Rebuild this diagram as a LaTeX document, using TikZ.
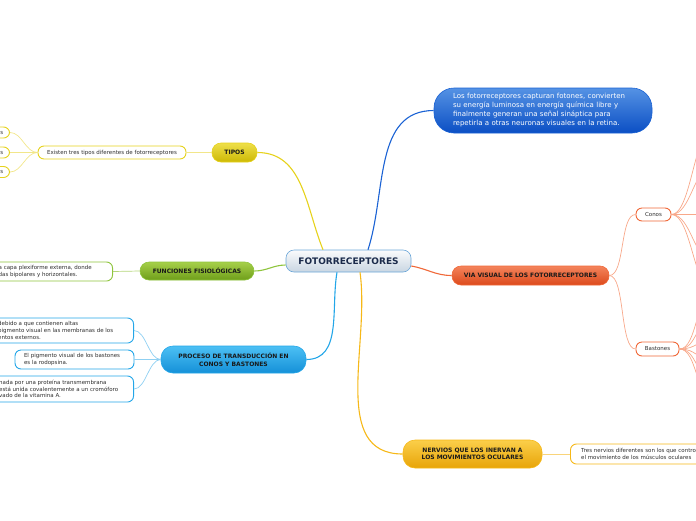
\documentclass[tikz,border=0pt]{standalone}
\usepackage{fontspec}
\setmainfont{DejaVu Sans}
\usetikzlibrary{positioning}
\definecolor{centop}{HTML}{FAFBFC}\definecolor{cenbot}{HTML}{C9D6E2}\definecolor{cenln}{HTML}{6BA6D8}\definecolor{centx}{HTML}{1B2B4B}
\definecolor{sumtop}{HTML}{5592E4}\definecolor{sumbot}{HTML}{0B4FC4}\definecolor{sumln}{HTML}{1A62D4}
\definecolor{tiptop}{HTML}{EEDF4A}\definecolor{tipbot}{HTML}{CDB905}\definecolor{tipln}{HTML}{E6D21C}\definecolor{tipsub}{HTML}{F2E68A}
\definecolor{funtop}{HTML}{A6D04A}\definecolor{funbot}{HTML}{6F9E1A}\definecolor{funln}{HTML}{8EC43C}\definecolor{funsub}{HTML}{B4D67A}
\definecolor{protop}{HTML}{4CC0F4}\definecolor{probot}{HTML}{1590D8}\definecolor{proln}{HTML}{23A6E8}\definecolor{prosub}{HTML}{8FD0F2}
\definecolor{viatop}{HTML}{F4845C}\definecolor{viabot}{HTML}{DC4A1C}\definecolor{vialn}{HTML}{F06838}\definecolor{viasub}{HTML}{F8A88A}
\definecolor{nertop}{HTML}{FBCF4A}\definecolor{nerbot}{HTML}{E8A408}\definecolor{nerln}{HTML}{F6B818}\definecolor{nersub}{HTML}{F9D47A}
\definecolor{leaftx}{HTML}{2E2E2E}

\begin{document}
\begin{tikzpicture}[x=1pt,y=-1pt,
  topic/.style={draw,line width=0.6pt,inner sep=0pt,align=center,font=\fontsize{6}{7.6}\selectfont\bfseries,text=black!90},
  leaf/.style={draw,fill=white,line width=0.9pt,rounded corners=6pt,inner sep=0pt,font=\fontsize{5.5}{6.6}\selectfont,text=leaftx},
  leaftext/.style={inner sep=0pt,align=left,anchor=west,font=\fontsize{5.5}{6.6}\selectfont,text=leaftx},
  mainln/.style={line width=1.1pt},
  subln/.style={line width=0.7pt}]
\useasboundingbox (0,0) rectangle (696,520);
\clip (0,0) rectangle (696,520);

% centre and first level
\node[topic,top color=centop,bottom color=cenbot,draw=cenln,rounded corners=8pt,minimum width=125pt,minimum height=22pt,font=\fontsize{9}{10}\selectfont\bfseries,text=centx] (foto) at (348.5,261) {FOTORRECEPTORES};
\node[topic,top color=sumtop,bottom color=sumbot,draw=sumln,rounded corners=20pt,minimum width=218pt,minimum height=45pt,text width=180pt,align=left,font=\fontsize{7}{9}\selectfont,text=white] (sum) at (543,110.5) {Los fotorreceptores capturan fotones, convierten\\su energía luminosa en energía química libre y\\finalmente generan una señal sináptica para\\repetirla a otras neuronas visuales en la retina.};
\node[topic,top color=tiptop,bottom color=tipbot,draw=tipln,rounded corners=9pt,minimum width=45pt,minimum height=19pt] (tipos) at (234.5,152.5) {TIPOS};
\node[topic,top color=funtop,bottom color=funbot,draw=funln,rounded corners=9pt,minimum width=114pt,minimum height=18pt] (fun) at (197,271) {FUNCIONES FISIOLÓGICAS};
\node[topic,top color=protop,bottom color=probot,draw=proln,rounded corners=12pt,minimum width=145pt,minimum height=27pt] (proc) at (233.5,359.5) {PROCESO DE TRANSDUCCIÓN EN\\CONOS Y BASTONES};
\node[topic,top color=viatop,bottom color=viabot,draw=vialn,rounded corners=9pt,minimum width=157pt,minimum height=19pt] (via) at (530.5,275.5) {VIA VISUAL DE LOS FOTORRECEPTORES};
\node[topic,top color=nertop,bottom color=nerbot,draw=nerln,rounded corners=12pt,minimum width=139pt,minimum height=28pt] (nerv) at (472.5,454) {NERVIOS QUE LOS INERVAN A\\LOS MOVIMIENTOS OCULARES};

% TIPOS
\node[leaf,draw=tipln,minimum width=148pt,minimum height=13pt] (tres) at (112,152.5) {Existen tres tipos diferentes de fotorreceptores};
\foreach \n/\y in {1/132.5,2/152.5,3/172}{
  \node[leaf,draw=tipln,minimum width=40pt,minimum height=11pt,anchor=east] (tipo\n) at (10,\y) {};
  \node[leaftext,anchor=east] (tipo\n txt) at (3.5,\y) {s};
}

% FUNCIONES
\node[leaf,draw=funln,minimum width=160pt,minimum height=19pt,anchor=east] (funbox) at (113,271.5) {};
\node[leaftext] (funtxt) at (-1.5,271.5) {a capa plexiforme externa, donde\\das bipolares y horizontales.};

% PROCESO
\node[leaf,draw=proln,minimum width=200pt,minimum height=25pt,anchor=east] (pro1) at (134,330.5) {};
\node[leaftext] (pro1txt) at (-2,330.5) {debido a que contienen altas\\pigmento visual en las membranas de los\\entos externos.};
\node[leaf,draw=proln,minimum width=119pt,minimum height=19pt,text width=101pt,align=left] (pro2) at (74.5,359.5) {El pigmento visual de los bastones\\es la rodopsina.};
\node[leaf,draw=proln,minimum width=200pt,minimum height=26pt,anchor=east] (pro3) at (134,389) {};
\node[leaftext] (pro3txt) at (-1,389) {nada por una proteína transmembrana\\está unida covalentemente a un cromóforo\\vado de la vitamina A.};

% VIA VISUAL
\node[leaf,draw=vialn,minimum width=35pt,minimum height=13pt] (conos) at (653.5,214.5) {Conos};
\node[leaf,draw=vialn,minimum width=43pt,minimum height=14pt] (bast) at (657.5,349) {Bastones};
\foreach \n/\y in {1/128,2/165,3/214.5,4/262,5/292}{\coordinate (con\n) at (714,\y);}
\foreach \n/\y in {1/292,2/318,3/340,4/360,5/380,6/400}{\coordinate (bas\n) at (714,\y);}

% NERVIOS
\node[leaf,draw=nerln,minimum width=200pt,minimum height=20pt,anchor=west] (nervbox) at (570,454) {};
\node[leaftext] (nervtxt) at (581,454) {Tres nervios diferentes son los que controlan\\el movimiento de los músculos oculares};

% connectors
\draw[mainln,sumln] ([xshift=19.5pt]foto.north) to[out=72,in=180] (sum.west);
\draw[mainln,tipln] ([xshift=-25.5pt]foto.north) to[out=112,in=0] (tipos.east);
\draw[mainln,funln] ([yshift=-4pt]foto.west) to[out=180,in=0] (fun.east);
\draw[mainln,proln] ([xshift=-11.5pt]foto.south) to[out=-100,in=0] (proc.east);
\draw[mainln,vialn] ([yshift=-5pt]foto.east) to[out=-10,in=180] (via.west);
\draw[mainln,nerln] ([xshift=11.5pt]foto.south) to[out=-82,in=180] (nerv.west);

\draw[subln,tipsub] (tipos.west) -- (tres.east);
\foreach \n in {1,2,3}{\draw[subln,tipsub] (tres.west) .. controls +(-12,0) and +(12,0) .. (tipo\n.east);}
\draw[subln,funsub] (fun.west) -- (funbox.east);
\foreach \n in {pro1,pro2,pro3}{\draw[subln,prosub] (proc.west) .. controls +(-12,0) and +(12,0) .. (\n.east);}
\draw[subln,viasub] (via.east) .. controls +(16,0) and +(-16,0) .. (conos.west);
\draw[subln,viasub] (via.east) .. controls +(16,0) and +(-16,0) .. (bast.west);
\foreach \n in {1,...,5}{\draw[subln,viasub] (conos.east) .. controls +(20,0) and +(-20,0) .. (con\n);}
\foreach \n in {1,...,6}{\draw[subln,viasub] (bast.east) .. controls +(18,0) and +(-18,0) .. (bas\n);}
\draw[subln,nersub] (nerv.east) -- (nervbox.west);
\end{tikzpicture}
\end{document}
